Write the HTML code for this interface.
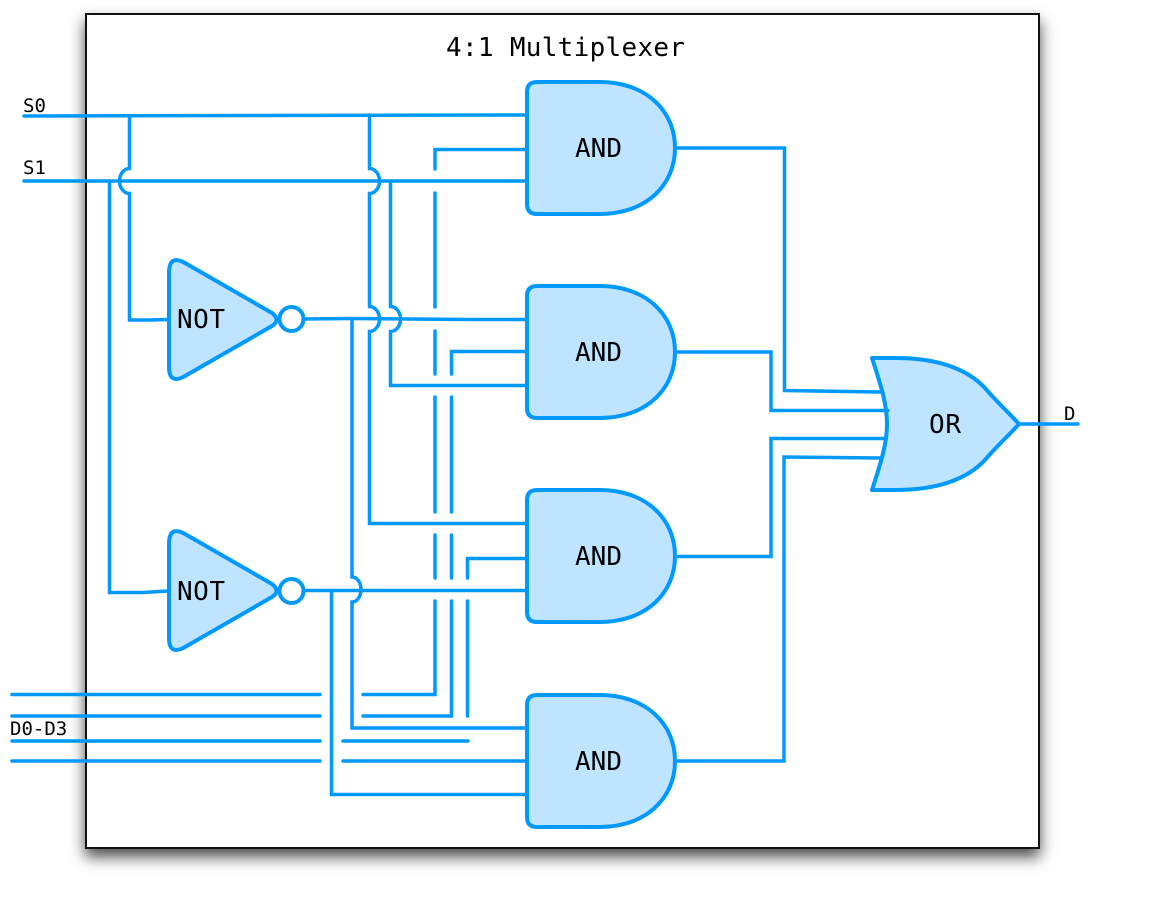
<!DOCTYPE html>
<html>
<head>
<meta charset="utf-8">
<title>4:1 Multiplexer</title>
<style>
html,body{margin:0;padding:0;background:#fff;width:1157px;height:900px;overflow:hidden}
#box{position:absolute;left:85px;top:13px;width:951px;height:832px;border:2px solid #111;background:#fff;box-shadow:0 8px 14px rgba(0,0,0,.7)}
svg{position:absolute;left:0;top:0}
text{font-family:"DejaVu Sans Mono","Liberation Mono",monospace;fill:#000}
.w{fill:none;stroke:#0099ff;stroke-width:3.5;stroke-linecap:round;stroke-linejoin:miter}
.g{fill:#bfe4ff;stroke:#0099ff;stroke-width:4;stroke-linejoin:round}
.c{fill:#fff;stroke:#0099ff;stroke-width:4}
.big{font-size:26px}
.sm{font-size:19px}
</style>
</head>
<body>
<div id="box"></div>
<svg width="1157" height="900" viewBox="0 0 1157 900">
<defs><filter id="b" x="-20%" y="-500%" width="140%" height="1100%"><feGaussianBlur stdDeviation="5"/></filter></defs>
<path d="M1040 434H1078" stroke="#000" stroke-opacity=".4" stroke-width="6" fill="none" filter="url(#b)"/>

<path class="g" d="M537 82H600C645 82 675 110 675 148C675 186 645 214 600 214H537Q527 214 527 204V92Q527 82 537 82Z"/>
<path class="g" d="M537 286H600C645 286 675 314 675 352C675 390 645 418 600 418H537Q527 418 527 408V296Q527 286 537 286Z"/>
<path class="g" d="M537 490H600C645 490 675 518 675 556C675 594 645 622 600 622H537Q527 622 527 612V500Q527 490 537 490Z"/>
<path class="g" d="M537 695H600C645 695 675 723 675 761C675 799 645 827 600 827H537Q527 827 527 817V705Q527 695 537 695Z"/>

<path class="g" d="M872 358H895C940 358 968 370 985 388C995 400 1008 412 1019 424C1008 436 995 448 985 460C968 478 940 490 895 490H872C880 465 887 445 887 424C887 403 880 383 872 358Z"/>

<path class="g" d="M169 273Q169 254 185 263L272 313Q281 320 272 326L185 376Q169 385 169 367Z"/>
<path class="g" d="M169 544Q169 525 185 534L272 584Q281 591 272 597L185 647Q169 656 169 638Z"/>
<circle class="c" cx="291.500" cy="319" r="12"/>
<circle class="c" cx="291.500" cy="591" r="12"/>

<g class="w">
<path d="M24 116L527 115"/>
<path d="M24 181H527"/>
<path d="M129.500 116V168.500A10 12.500 0 0 0 129.500 193.500V320H150L168 319.500"/>
<path d="M109.500 181V592.500H143L168 591"/>
<path d="M369.500 115V168.500A10 12.500 0 0 1 369.500 193.500V306.500A10 12.500 0 0 1 369.500 331.500V523.500H527"/>
<path d="M390.500 181V306.500A10 12.500 0 0 1 390.500 331.500V385.500H527"/>
<path d="M304 319L350 318.500L470 319.500H527"/>
<path d="M304 590.500H527"/>
<path d="M352 319V577A9 12.500 0 0 1 352 602V728H527"/>
<path d="M331.500 590.500V794.500H527"/>

<path d="M527 149.500H435V169"/>
<path d="M435 193V307"/>
<path d="M435 331V374"/>
<path d="M435 397V512"/>
<path d="M435 535V578"/>
<path d="M435 601V694.500H363"/>

<path d="M527 351.500H451.500V374"/>
<path d="M451.500 397V512"/>
<path d="M451.500 535V578"/>
<path d="M451.500 601V716H363"/>

<path d="M527 558.500H467.500V578"/>
<path d="M467.500 601V716"/>

<path d="M12 694.500H320"/>
<path d="M12 716H320"/>
<path d="M12 741H320"/>
<path d="M12 761H320"/>
<path d="M343 741H468"/>
<path d="M343 761H527"/>

<path d="M675 148H784.500V390.500L880 392"/>
<path d="M675 352H771V410.500H888"/>
<path d="M675 556.500H771V438.500H885"/>
<path d="M675 761H784V457L880 458"/>
<path d="M1019 424H1078"/>
</g>

<text class="big" x="446" y="56" textLength="239" lengthAdjust="spacing">4:1 Multiplexer</text>
<text class="big" x="575" y="157" textLength="47">AND</text>
<text class="big" x="575" y="361" textLength="47">AND</text>
<text class="big" x="575" y="565" textLength="47">AND</text>
<text class="big" x="575" y="770" textLength="47">AND</text>
<text class="big" x="177" y="328" textLength="48">NOT</text>
<text class="big" x="177" y="600" textLength="48">NOT</text>
<text class="big" x="929" y="433" textLength="32">OR</text>
<text class="sm" x="23" y="112">S0</text>
<text class="sm" x="23" y="174">S1</text>
<text class="sm" x="10" y="735">D0-D3</text>
<text class="sm" x="1064" y="420">D</text>
</svg>
</body>
</html>
